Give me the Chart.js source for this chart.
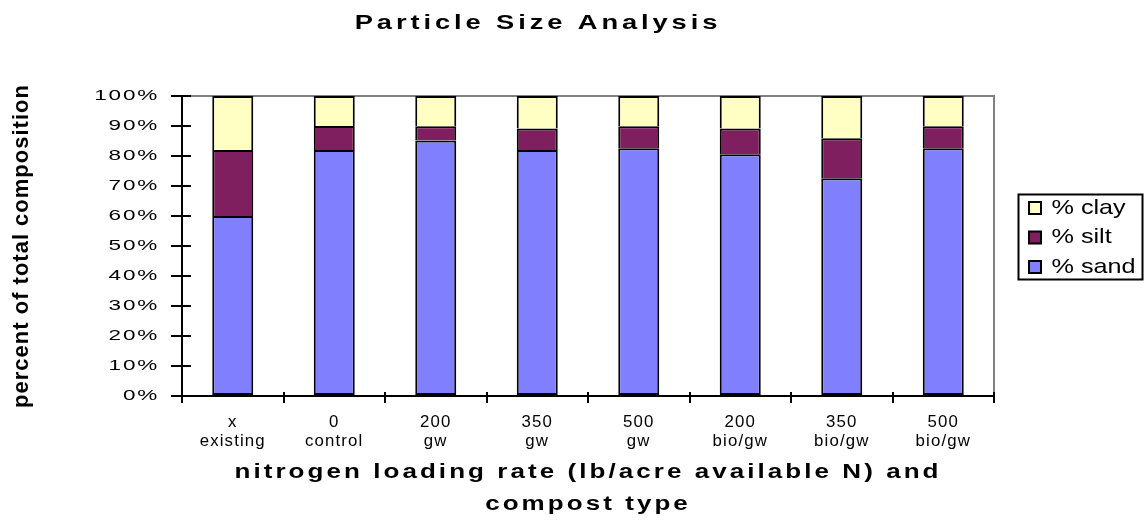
<!DOCTYPE html>
<html>
<head>
<meta charset="utf-8">
<title>Particle Size Analysis</title>
<script src="https://cdn.jsdelivr.net/npm/chart.js@4.4.1/dist/chart.umd.min.js"></script>
<style>
  html, body { margin: 0; padding: 0; background: #ffffff; }
  canvas { display: block; }
</style>
</head>
<body>
<canvas id="chart" width="1144" height="525"></canvas>
<script>
// Nitrogen loading rate and compost type for each plot
const rates = ['x', '0', '200', '350', '500', '200', '350', '500'];
const compostTypes = ['existing', 'control', 'gw', 'gw', 'gw', 'bio/gw', 'bio/gw', 'bio/gw'];

// Share of total composition (%), stacked bottom to top: sand, silt, clay
const sand = [60, 82, 85.2, 82, 82.6, 80.6, 72.6, 82.6];
const silt = [22, 8, 4.7, 7.2, 7.3, 8.6, 13.3, 7.3];
const clay = [18, 10, 10.1, 10.8, 10.1, 10.8, 14.1, 10.1];

// Value axis ticks
const percentTicks = [0, 10, 20, 30, 40, 50, 60, 70, 80, 90, 100];

const categoryLabels = rates.map((r, i) => [r, compostTypes[i]]);

const FONT = "'Liberation Sans', Arial, Helvetica, sans-serif";
Chart.defaults.font.family = FONT;
Chart.defaults.color = '#000000';

// Wide, letter-spaced text: [horizontal stretch, letter spacing px] per font
const TEXT_STYLE = {
  '15': [1.5, 1.2],   // value axis labels
  '16': [1.05, 1.1],  // category labels
  '21': [1.2, 0],     // legend
  'b20': [1.3, 2.35], // category axis title
  'b21': [1.3, 3],    // chart title
  'b22': [1, 1]       // value axis title (vertical)
};
function textStyle(ctx) {
  const m = /(\d+(?:\.\d+)?)px/.exec(ctx.font);
  const bold = /bold|[6-9]00/.test(ctx.font);
  const key = (bold ? 'b' : '') + (m ? Math.round(+m[1]) : '');
  return TEXT_STYLE[key] || [1, 0];
}

const wideText = {
  id: 'wideText',
  beforeInit(chart) {
    const ctx = chart.ctx;
    const fill = ctx.fillText;
    const measure = ctx.measureText;
    ctx.fillText = function (text, x, y, maxWidth) {
      const [sx, ls] = textStyle(this);
      const t = this.getTransform();
      const rotated = Math.abs(t.b) > 1e-6 || Math.abs(t.c) > 1e-6;
      const k = rotated ? 1 : sx;
      this.save();
      this.letterSpacing = ls + 'px';
      this.translate(x, y);
      this.scale(k, 1);
      if (maxWidth === undefined || maxWidth === null) fill.call(this, text, 0, 0);
      else fill.call(this, text, 0, 0, maxWidth / k);
      this.restore();
    };
    ctx.measureText = function (text) {
      const [sx, ls] = textStyle(this);
      const prev = this.letterSpacing;
      this.letterSpacing = ls + 'px';
      const m = measure.call(this, text);
      this.letterSpacing = prev;
      return {
        width: m.width * sx,
        actualBoundingBoxLeft: m.actualBoundingBoxLeft * sx,
        actualBoundingBoxRight: m.actualBoundingBoxRight * sx,
        actualBoundingBoxAscent: m.actualBoundingBoxAscent,
        actualBoundingBoxDescent: m.actualBoundingBoxDescent,
        fontBoundingBoxAscent: m.fontBoundingBoxAscent,
        fontBoundingBoxDescent: m.fontBoundingBoxDescent
      };
    };
  }
};

// Plot frame (grey top/right edges), inner halves of the cross tick marks,
// placement of the title and the boxed legend
const plotFrame = {
  id: 'plotFrame',
  afterLayout(chart) {
    const a = chart.chartArea;
    const lg = chart.legend;
    lg.left = a.right + 26.5;
    lg.right = chart.width - 2;
    lg.width = lg.right - lg.left;
    lg.top = a.top + 93;
    lg.bottom = lg.top + 100;
    lg.height = 100;
    const tb = chart.titleBlock;
    tb.left = 0;
    tb.right = 1076;
    tb.width = 1076;
  },
  beforeDatasetsDraw(chart) {
    const {ctx, chartArea: a, scales: {x, y}} = chart;
    const L = Math.round(a.left), R = Math.round(a.right), T = Math.round(a.top), B = Math.round(a.bottom);
    ctx.save();
    ctx.lineWidth = 2;
    ctx.strokeStyle = '#808080';
    ctx.beginPath();
    ctx.moveTo(L, T);
    ctx.lineTo(R, T);
    ctx.lineTo(R, B);
    ctx.stroke();
    ctx.strokeStyle = '#000000';
    ctx.beginPath();
    y.ticks.forEach(t => {
      const py = Math.round(y.getPixelForValue(t.value));
      ctx.moveTo(L, py);
      ctx.lineTo(L + 9, py);
    });
    const step = x.getPixelForValue(1) - x.getPixelForValue(0);
    for (let i = 0; i <= x.ticks.length; i++) {
      const px = Math.round(x.getPixelForValue(0) - step / 2 + i * step);
      ctx.moveTo(px, B);
      ctx.lineTo(px, B - 4);
    }
    ctx.stroke();
    ctx.restore();
  },
  afterDraw(chart) {
    const {ctx} = chart;
    const lg = chart.legend;
    ctx.save();
    ctx.lineWidth = 2;
    ctx.strokeStyle = '#000000';
    ctx.strokeRect(Math.round(lg.left) - 2.5, Math.round(lg.top) + 5.5, 124, 85);
    ctx.restore();
  }
};

const segment = {
  borderColor: '#000000',
  borderWidth: 2,
  barPercentage: 0.404,
  categoryPercentage: 1
};

new Chart(document.getElementById('chart'), {
  type: 'bar',
  data: {
    labels: categoryLabels,
    datasets: [
      Object.assign({label: '% sand', data: sand, backgroundColor: '#8080FF', borderSkipped: false}, segment),
      Object.assign({label: '% silt', data: silt, backgroundColor: '#7F1F5F', borderSkipped: 'bottom'}, segment),
      Object.assign({label: '% clay', data: clay, backgroundColor: '#FFFFC4', borderSkipped: 'bottom'}, segment)
    ]
  },
  options: {
    responsive: false,
    devicePixelRatio: 1,
    animation: false,
    events: [],
    layout: {padding: {top: 0, left: 0, right: 150, bottom: 0}},
    plugins: {
      title: {
        display: true,
        text: 'Particle Size Analysis',
        color: '#000000',
        font: {size: 21, weight: 'bold', lineHeight: 1.2},
        padding: {top: 11, bottom: 59.8}
      },
      legend: {
        display: true,
        position: 'chartArea',
        align: 'start',
        reverse: true,
        labels: {
          color: '#000000',
          font: {size: 21},
          boxWidth: 12,
          boxHeight: 12,
          padding: 8.5
        }
      },
      tooltip: {enabled: false}
    },
    scales: {
      x: {
        stacked: true,
        grid: {display: true, drawOnChartArea: false, drawTicks: true, tickLength: 7, color: '#000000', lineWidth: 2, offset: true},
        border: {display: true, color: '#000000', width: 2},
        ticks: {font: {size: 16, lineHeight: 1.2}, padding: 10, maxRotation: 0, autoSkip: false, color: '#000000'},
        title: {
          display: true,
          text: ['nitrogen loading rate (lb/acre available N) and', 'compost type'],
          color: '#000000',
          font: {size: 20, weight: 'bold', lineHeight: 1.6},
          padding: {top: 0, bottom: 5}
        },
        afterFit(scale) { scale.height = 129; }
      },
      y: {
        stacked: true,
        min: 0,
        max: 100,
        afterBuildTicks(scale) { scale.ticks = percentTicks.map(v => ({value: v})); },
        grid: {display: true, drawOnChartArea: false, drawTicks: true, tickLength: 11, color: '#000000', lineWidth: 2},
        border: {display: true, color: '#000000', width: 2},
        ticks: {font: {size: 15}, padding: 12, color: '#000000', callback: v => v + '%'},
        title: {
          display: true,
          text: 'percent of total composition',
          color: '#000000',
          font: {size: 22, weight: 'bold', lineHeight: 1.2},
          padding: {top: 9, bottom: 0}
        },
        afterFit(scale) { scale.width = 182; }
      }
    }
  },
  plugins: [wideText, plotFrame]
});
</script>
</body>
</html>
